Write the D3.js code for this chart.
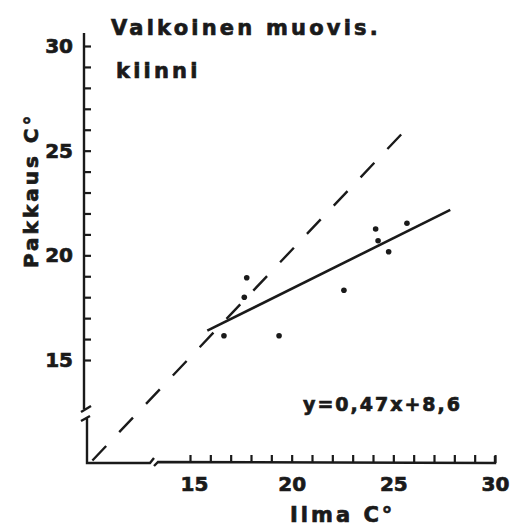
<!DOCTYPE html>
<html>
<head>
<meta charset="utf-8">
<script src="https://cdn.jsdelivr.net/npm/d3@7"></script>
<style>
  body { margin: 0; background: #fff; }
  text { font-family: 'DejaVu Sans', sans-serif; font-weight: bold; fill: #1a1a1a; stroke: #1a1a1a; stroke-width: 0.7px; }
</style>
</head>
<body>
<div id="chart"></div>
<script>
// values
let ilma = [16.67, 17.67, 17.79, 19.38, 22.57, 24.13, 24.25, 24.77, 25.67]
let pakkaus = [16.16, 18.0, 18.93, 16.16, 18.33, 21.26, 20.7, 20.17, 21.53]
let fitX = [15.85, 27.8]
let fitY = [16.4, 22.17]
let diagX = [10.2, 25.8]
let diagY = [10.2, 26.2]
let tickValues = d3.range(15, 31)

let width = 516
let height = 528
let ink = '#1a1a1a'

let svg = d3
  .select('#chart')
  .append('svg')
  .attr('width', width)
  .attr('height', height)

var xScale = d3.scaleLinear().domain([15, 30]).range([190, 495])
var yScale = d3.scaleLinear().domain([15, 30]).range([360, 46])

// axis lines with breaks
let axisG = svg.append('g').attr('stroke', ink).attr('stroke-width', 2.4).attr('fill', 'none')
axisG.append('path').attr('d', 'M84,33 L84,409')
axisG.append('path').attr('d', 'M81,412 L91,406')
axisG.append('path').attr('d', 'M81,421 L90,416 M87,418 L87,463 L150,463 L154,458')
axisG.append('path').attr('d', 'M154,466 L158,462 L' + xScale(30) + ',463 L' + xScale(30) + ',456')

var yAxis = d3.axisLeft(yScale)
  .tickValues(tickValues)
  .tickSize(-7)
  .tickPadding(11)
  .tickFormat(function(d) {
    return d % 5 === 0 ? d : ''
  })
svg
  .append('g')
  .attr('transform', 'translate(84,0)')
  .call(yAxis)
  .call(g => g.select('.domain').remove())
  .call(g => g.selectAll('line').attr('stroke', ink).attr('stroke-width', 2.2))
  .call(g => g.selectAll('text').attr('font-size', 20).attr('fill', ink))

var xAxis = d3.axisBottom(xScale)
  .tickValues(tickValues)
  .tickSize(-8)
  .tickPadding(14)
  .tickFormat(function(d) {
    return d % 5 === 0 ? d : ''
  })
svg
  .append('g')
  .attr('transform', 'translate(0,463)')
  .call(xAxis)
  .call(g => g.select('.domain').remove())
  .call(g => g.selectAll('line').attr('stroke', ink).attr('stroke-width', 2.2))
  .call(g => g.selectAll('text').attr('font-size', 20).attr('fill', ink)
    .attr('dx', d => d === 15 ? 4 : 0))

// y = x reference line
svg
  .append('line')
  .attr('x1', xScale(diagX[0]))
  .attr('y1', yScale(diagY[0]))
  .attr('x2', xScale(diagX[1]))
  .attr('y2', yScale(diagY[1]))
  .attr('stroke', ink)
  .attr('stroke-width', 2.4)
  .attr('stroke-dasharray', '20,19')

// fitted line
svg
  .append('line')
  .attr('x1', xScale(fitX[0]))
  .attr('y1', yScale(fitY[0]))
  .attr('x2', xScale(fitX[1]))
  .attr('y2', yScale(fitY[1]))
  .attr('stroke', ink)
  .attr('stroke-width', 2.6)

svg
  .selectAll('circle')
  .data(ilma)
  .enter()
  .append('circle')
  .attr('cx', function(d) {
    return xScale(d)
  })
  .attr('cy', function(d, i) {
    return yScale(pakkaus[i])
  })
  .attr('r', 2.8)
  .attr('fill', ink)

// texts
svg.append('text').attr('x', 111).attr('y', 35).attr('font-size', 21).attr('letter-spacing', 3.2)
  .text('Valkoinen muovis.')
svg.append('text').attr('x', 116).attr('y', 78).attr('font-size', 21).attr('letter-spacing', 3.2)
  .text('kiinni')

svg.append('text')
  .attr('transform', 'translate(38,268) rotate(-90)')
  .attr('font-size', 20)
  .attr('letter-spacing', 3)
  .text('Pakkaus C°')

svg.append('text').attr('x', 290).attr('y', 522).attr('font-size', 21).attr('letter-spacing', 3)
  .text('Ilma  C°')

svg.append('text').attr('x', 303).attr('y', 411).attr('font-size', 19).attr('letter-spacing', 2)
  .text('y=0,47x+8,6')
</script>
</body>
</html>
